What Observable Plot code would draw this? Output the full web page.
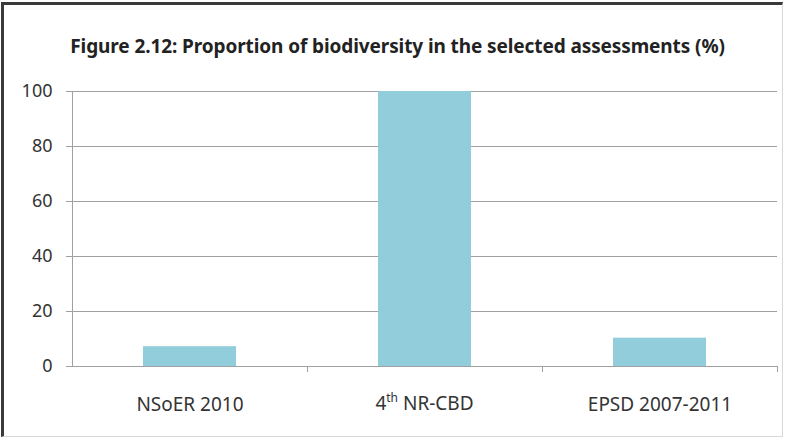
<!DOCTYPE html>
<html>
<head>
<meta charset="utf-8">
<script src="https://cdn.jsdelivr.net/npm/d3@7"></script>
<script src="https://cdn.jsdelivr.net/npm/@observablehq/plot@0.6"></script>
<style>
  html, body { margin: 0; padding: 0; background: #fff; }
  #wrap { position: relative; width: 785px; height: 440px; overflow: hidden; background: #fff; }
  #frame { position: absolute; left: 1px; top: 2px; width: 782px; height: 435px; box-sizing: border-box;
           border-left: 3px solid #3a3a3a; border-top: 3px solid #3a3a3a; border-right: 1px solid #d8d8d8; border-bottom: 1px solid #d8d8d8; }
  #title { position: absolute; left: 0; width: 795px; top: 33px; text-align: center;
           font-family: "Noto Sans", sans-serif; font-weight: bold; font-size: 19px; color: #222; letter-spacing: -0.1px; }
  #chart { position: absolute; left: 0; top: 70px; }
  #chart text { font-family: "Noto Sans", sans-serif; fill: #333; }
</style>
</head>
<body>
<div id="wrap">
  <div id="frame"></div>
  <div id="title">Figure 2.12: Proportion of biodiversity in the selected assessments (%)</div>
  <div id="chart"></div>
</div>
<script>
const categories = ["NSoER 2010", "4th NR-CBD", "EPSD 2007-2011"];
const values = [7.2, 100, 10.3];
const yTicks = [0, 20, 40, 60, 80, 100];

const data = categories.map((c, i) => ({category: c, value: values[i]}));

const W = 785, H = 360;
const mL = 72, mR = 8, mT = 21, mB = 64;
const band = (W - mL - mR) / categories.length;
const barW = 93;

const plot = Plot.plot({
  width: W,
  height: H,
  marginLeft: mL,
  marginRight: mR,
  marginTop: mT,
  marginBottom: mB,
  style: {fontSize: "18px", background: "transparent", overflow: "visible"},
  x: {domain: categories, padding: 0, label: null},
  y: {domain: [0, 100], label: null},
  marks: [
    Plot.gridY(yTicks, {stroke: "#a0a0a0", strokeOpacity: 1, strokeWidth: 1}),
    Plot.barY(data, {x: "category", y: "value", fill: "#92cddc",
      insetLeft: (band - barW) / 2, insetRight: (band - barW) / 2}),
    Plot.axisY(yTicks, {tickSize: 6, tickPadding: 14, stroke: "#a0a0a0", fontSize: 18, label: null}),
    Plot.axisX({tickSize: 0, tickPadding: 31, fontSize: 19, label: null,
      tickFormat: d => d === "4th NR-CBD" ? "" : d}),
    Plot.ruleX([categories[0]], {dx: -band / 2, stroke: "#a0a0a0"}),
    Plot.ruleY([0], {stroke: "#a0a0a0"}),
    Plot.ruleX(categories, {x: d => d, y1: 0, y2: 0, dx: band / 2, insetBottom: -6, stroke: "#a0a0a0"})
  ]
});

// superscript label for the middle category, positioned by the plot's own x scale
const xs = plot.scale("x");
const svg = d3.select(plot);
const cx = xs.apply(categories[1]) + xs.bandwidth / 2;
const t = svg.append("text")
  .attr("x", cx)
  .attr("y", H - mB + 31)
  .attr("dy", "0.71em")
  .attr("text-anchor", "middle")
  .style("font-size", "19px");
t.append("tspan").text("4");
t.append("tspan").text("th").attr("baseline-shift", "super").style("font-size", "12px");
t.append("tspan").text(" NR-CBD");

document.getElementById("chart").appendChild(plot);
</script>
</body>
</html>
